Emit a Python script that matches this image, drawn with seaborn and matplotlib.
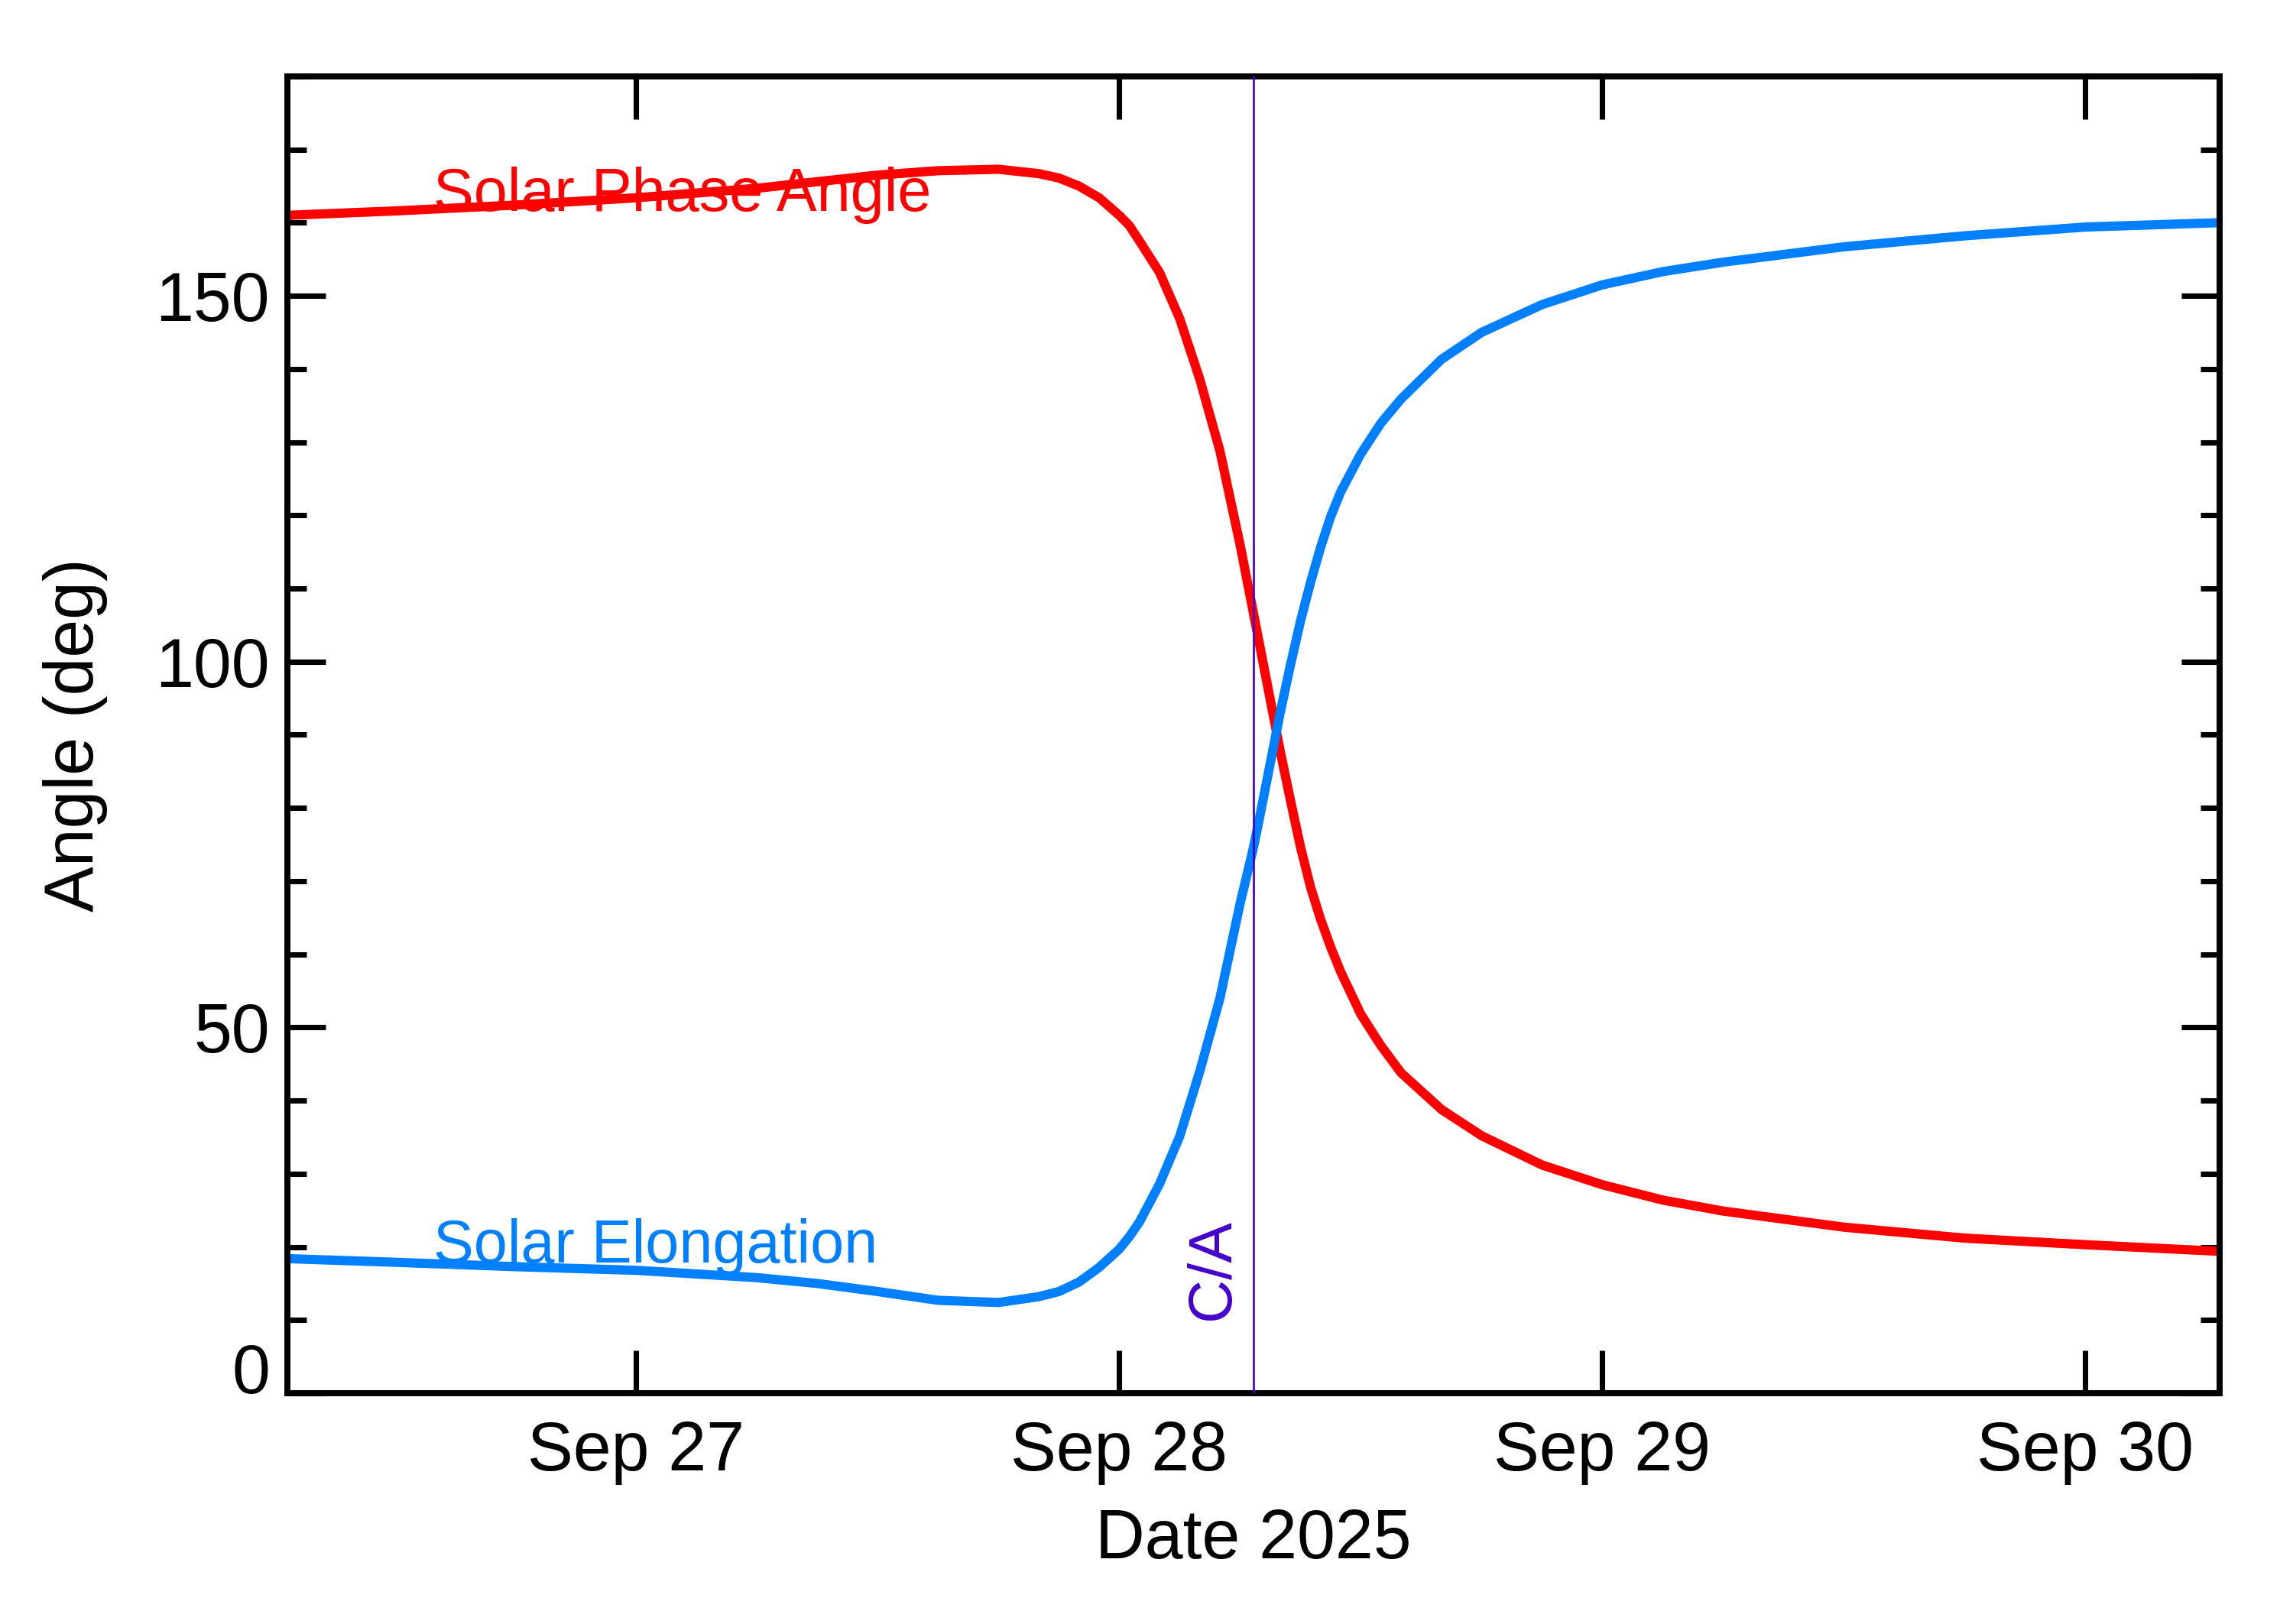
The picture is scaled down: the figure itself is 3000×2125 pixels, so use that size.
import pandas as pd
import seaborn as sns
import matplotlib.pyplot as plt
import matplotlib.dates as mdates
from matplotlib.ticker import MultipleLocator

times = [
    "2025-09-26 06:40", "2025-09-26 12:00", "2025-09-26 18:00",
    "2025-09-27 00:00", "2025-09-27 06:00", "2025-09-27 09:00",
    "2025-09-27 12:00", "2025-09-27 15:00", "2025-09-27 18:00",
    "2025-09-27 20:00", "2025-09-27 21:00", "2025-09-27 22:00",
    "2025-09-27 23:00", "2025-09-28 00:00", "2025-09-28 00:30",
    "2025-09-28 01:00", "2025-09-28 02:00", "2025-09-28 03:00",
    "2025-09-28 04:00", "2025-09-28 05:00", "2025-09-28 06:00",
    "2025-09-28 06:40", "2025-09-28 07:00", "2025-09-28 08:00",
    "2025-09-28 08:30", "2025-09-28 09:00", "2025-09-28 09:30",
    "2025-09-28 10:00", "2025-09-28 10:30", "2025-09-28 11:00",
    "2025-09-28 12:00", "2025-09-28 13:00", "2025-09-28 14:00",
    "2025-09-28 16:00", "2025-09-28 18:00", "2025-09-28 21:00",
    "2025-09-29 00:00", "2025-09-29 03:00", "2025-09-29 06:00",
    "2025-09-29 12:00", "2025-09-29 18:00", "2025-09-30 00:00",
    "2025-09-30 06:40",
]
phase_angle = [
    161.0, 161.6, 162.4, 163.4, 164.7, 165.6,
    166.5, 167.1, 167.3, 166.7, 166.1, 165.0,
    163.4, 161.0, 159.6, 157.5, 153.2, 146.9,
    138.6, 128.8, 116.0, 106.6, 101.9, 87.7,
    81.1, 74.7, 69.2, 64.8, 61.0, 57.6,
    51.8, 47.5, 43.8, 38.8, 35.2, 31.2,
    28.5, 26.4, 24.9, 22.7, 21.2, 20.3,
    19.4,
]
elongation = [
    18.4, 17.9, 17.3, 16.8, 15.8, 15.0,
    13.9, 12.7, 12.4, 13.2, 13.9, 15.2,
    17.2, 19.7, 21.4, 23.4, 28.6, 35.1,
    44.0, 54.0, 66.9, 74.6, 79.1, 93.1,
    99.5, 105.5, 110.8, 115.6, 119.8, 123.2,
    128.4, 132.6, 135.9, 141.3, 145.0, 148.8,
    151.5, 153.3, 154.6, 156.7, 158.2, 159.4,
    160.0,
]
ca_time = "2025-09-28 06:40"
x_start = "2025-09-26 06:40"
x_end = "2025-09-30 06:40"

df = pd.DataFrame({"time": pd.to_datetime(times),
                   "phase": phase_angle,
                   "elong": elongation})

sns.set_style("ticks")
plt.rcParams["font.family"] = ["Liberation Sans", "DejaVu Sans"]
plt.rcParams["text.color"] = "black"
plt.rcParams["axes.labelcolor"] = "black"

fig, ax = plt.subplots(figsize=(10, 2125 / 300), dpi=300)
fig.subplots_adjust(left=0.1253, right=0.968, bottom=0.1421, top=0.953)

sns.lineplot(data=df, x="time", y="phase", color="#ff0000", lw=2.9, ax=ax)
sns.lineplot(data=df, x="time", y="elong", color="#0080ff", lw=2.9, ax=ax)

ca = mdates.date2num(pd.Timestamp(ca_time))
ax.axvline(ca, color="#4400cc", lw=0.65, zorder=5)
ax.annotate("C/A", xy=(ca, 10), xytext=(-3.5, 0), textcoords="offset points",
            rotation=90, ha="right", va="bottom", color="#4400cc", fontsize=19)

ax.text(0.0756, 0.898, "Solar Phase Angle", transform=ax.transAxes,
        color="#ff0000", fontsize=19, ha="left", va="baseline")
ax.text(0.0756, 0.0995, "Solar Elongation", transform=ax.transAxes,
        color="#0080ff", fontsize=19, ha="left", va="baseline")

ax.set_xlim(mdates.date2num(pd.Timestamp(x_start)), mdates.date2num(pd.Timestamp(x_end)))
ax.set_ylim(0, 180)

ax.xaxis.set_major_locator(mdates.DayLocator())
ax.xaxis.set_major_formatter(mdates.DateFormatter("%b %d"))
ax.yaxis.set_major_locator(MultipleLocator(50))
ax.yaxis.set_minor_locator(MultipleLocator(10))

ax.tick_params(axis="x", which="major", direction="in", length=13.5, width=1.7,
               top=True, labelsize=21.5, pad=8.5, color="black", labelcolor="black")
ax.tick_params(axis="y", which="major", direction="in", length=12, width=1.7,
               right=True, labelsize=21.5, pad=5.5, color="black", labelcolor="black")
ax.tick_params(axis="y", which="minor", direction="in", length=6, width=1.7,
               right=True, color="black")
for s in ax.spines.values():
    s.set_linewidth(1.9)
    s.set_color("black")

ax.set_xlabel("Date 2025", fontsize=21.5, labelpad=7)
ax.set_ylabel("Angle (deg)", fontsize=21.5, labelpad=15)

# the "0" label sits on the axis line rather than centred on its tick
fig.canvas.draw()
for tick in ax.yaxis.get_major_ticks():
    if tick.get_loc() == 0:
        tick.label1.set_verticalalignment("baseline")

fig.savefig("out.png", dpi=300)
